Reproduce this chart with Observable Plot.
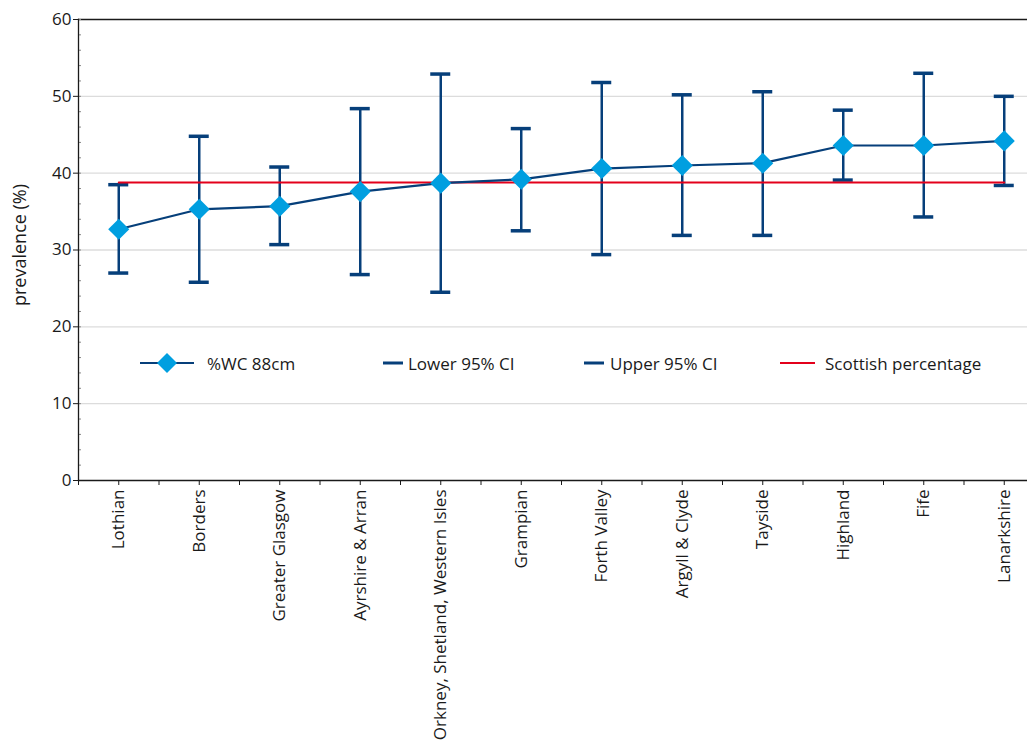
<!DOCTYPE html>
<html><head><meta charset="utf-8">
<script src="https://cdn.jsdelivr.net/npm/d3@7"></script>
<script src="https://cdn.jsdelivr.net/npm/@observablehq/plot@0.6"></script>
<style>
body{margin:0;background:#fff;font-family:"Open Sans",sans-serif;}
#wrap{position:relative;width:1027px;height:742px;overflow:hidden;}
.li{position:absolute;top:351px;height:24px;display:flex;align-items:center;font-size:17px;color:#1a1a1a;white-space:nowrap;}
</style></head><body>
<div id="wrap"><div id="chart"></div><div id="legend"></div></div>
<script>
const boards = ["Lothian","Borders","Greater Glasgow","Ayrshire & Arran","Orkney, Shetland, Western Isles","Grampian","Forth Valley","Argyll & Clyde","Tayside","Highland","Fife","Lanarkshire"];
const prevalence = [32.7,35.3,35.7,37.6,38.7,39.2,40.6,41.0,41.3,43.6,43.6,44.2];
const lower = [27.0,25.8,30.7,26.8,24.5,32.5,29.4,31.9,31.9,39.1,34.3,38.4];
const upper = [38.5,44.8,40.8,48.4,52.9,45.8,51.8,50.2,50.6,48.2,53.0,50.0];
const scottish = 38.8;
const yTicks = [0,10,20,30,40,50,60];
const gridTicks = [10,20,30,40,50];
const minorTicks = d3.range(0,61,2);
const seriesNames = ["%WC 88cm","Lower 95% CI","Upper 95% CI","Scottish percentage"];

const dark = "#063f7a", light = "#009fe0", red = "#e3001b";
const rows = boards.map((b,i)=>({board:b, p:prevalence[i], lo:lower[i], hi:upper[i]}));
const xRange = [78, 1044];
const bw = (xRange[1]-xRange[0])/boards.length;

const chart = Plot.plot({
  width: 1027, height: 742,
  marginLeft: 78, marginRight: 0, marginTop: 19, marginBottom: 262,
  style: {fontFamily: '"Open Sans", sans-serif', fontSize: "16px", color: "#1a1a1a", background: "#fff"},
  x: {type: "band", domain: boards, range: xRange, padding: 0, round: false, label: null},
  y: {domain: [0, 60], label: null},
  marks: [
    Plot.ruleY(gridTicks, {stroke: "#dcdcdc", strokeWidth: 1.3}),
    Plot.ruleY([60], {stroke: "#1a1a1a", strokeWidth: 1.3}),
    Plot.axisY({ticks: minorTicks, tickSize: 3, dx: 3, text: null, label: null, stroke: "#888", strokeWidth: 1}),
    Plot.axisY({ticks: yTicks, tickSize: 5, tickPadding: 2, label: null, fontSize: 17, stroke: "#1a1a1a"}),
    Plot.text(["prevalence (%)"], {frameAnchor: "left", textAnchor: "middle", dx: -58, dy: -5, rotate: -90, fontSize: 18, fill: "#1a1a1a"}),
    Plot.axisX({ticks: boards, tickSize: 5, text: null, label: null, dx: -bw/2, stroke: "#1a1a1a"}),
    Plot.axisX({ticks: boards, tickSize: 5, tickPadding: 4, tickRotate: -90, label: null, fontSize: 17}),
    Plot.frame({anchor: "left", stroke: "#1a1a1a", strokeWidth: 1.3}),
    Plot.ruleY([0], {stroke: "#1a1a1a", strokeWidth: 1.3}),
    Plot.ruleX(rows, {x: "board", y1: "lo", y2: "hi", stroke: dark, strokeWidth: 2.5}),
    Plot.tickY(rows, {x: "board", y: "lo", stroke: dark, strokeWidth: 3.5, insetLeft: bw/2-10, insetRight: bw/2-10}),
    Plot.tickY(rows, {x: "board", y: "hi", stroke: dark, strokeWidth: 3.5, insetLeft: bw/2-10, insetRight: bw/2-10}),
    Plot.line(boards, {x: d=>d, y: ()=>scottish, stroke: red, strokeWidth: 2}),
    Plot.line(rows, {x: "board", y: "p", stroke: dark, strokeWidth: 2.2}),
    Plot.dot(rows, {x: "board", y: "p", symbol: "diamond2", r: 9.5, fill: light, stroke: "none"})
  ]
});
document.getElementById("chart").appendChild(chart);

// legend
const legend = document.getElementById("legend");
const items = [
  {left: 140, w: 54, html: `<line x1="0" y1="12" x2="54" y2="12" stroke="${dark}" stroke-width="2"/><path d="M27 2 L37 12 L27 22 L17 12 Z" fill="${light}"/>`},
  {left: 383, w: 20, html: `<line x1="0" y1="12" x2="20" y2="12" stroke="${dark}" stroke-width="3"/>`},
  {left: 584, w: 20, html: `<line x1="0" y1="12" x2="20" y2="12" stroke="${dark}" stroke-width="3"/>`},
  {left: 780, w: 35, html: `<line x1="0" y1="12" x2="35" y2="12" stroke="${red}" stroke-width="2"/>`}
];
const gaps = [13, 5, 6, 10];
items.forEach((it,i)=>{
  const d = document.createElement("div");
  d.className = "li";
  d.style.left = it.left + "px";
  d.innerHTML = `<svg width="${it.w}" height="24" style="margin-right:${gaps[i]}px">${it.html}</svg><span>${seriesNames[i]}</span>`;
  legend.appendChild(d);
});
</script>
</body></html>
